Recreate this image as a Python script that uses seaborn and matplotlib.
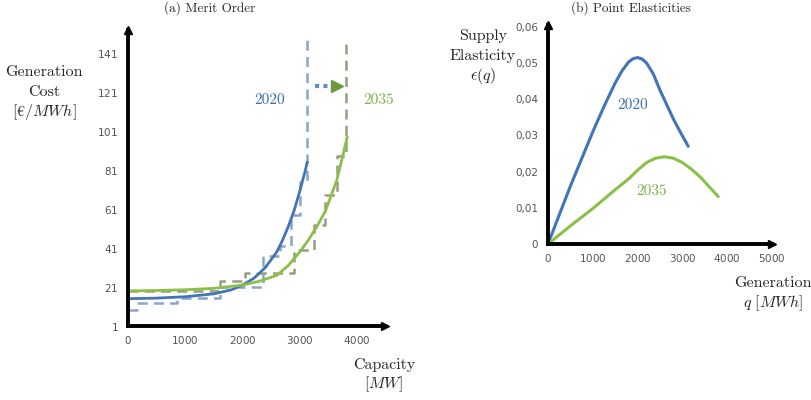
import matplotlib
matplotlib.use("Agg")
import matplotlib.pyplot as plt
import pandas as pd
import seaborn as sns

# (a) merit order curves
cap_2020 = [0, 500, 1000, 1500, 1800, 2000, 2200, 2400, 2600, 2700, 2800, 2900, 3000, 3100, 3130]
cost_2020 = [15, 15.3, 16, 17.5, 19.5, 22, 25.5, 31, 39, 45, 52, 60, 70, 81, 85]
cap_2035 = [0, 500, 1000, 1500, 2000, 2300, 2600, 2800, 3000, 3150, 3300, 3450, 3550, 3650, 3750, 3830]
cost_2035 = [19, 19.2, 19.6, 20.3, 22, 24, 27, 32, 39, 45, 52, 60, 68, 76, 88, 98]

# dashed step supply (plants)
step_cap_2020 = [0, 150, 150, 850, 850, 1600, 1600, 2350, 2350, 2650, 2650, 2850, 2850, 3000, 3000, 3130, 3130]
step_cost_2020 = [9, 9, 13, 13, 15.5, 15.5, 21, 21, 37, 37, 42, 42, 58, 58, 75, 75, 149]
step_cap_2035 = [0, 1600, 1600, 2050, 2050, 2900, 2900, 3250, 3250, 3450, 3450, 3650, 3650, 3800, 3800]
step_cost_2035 = [19, 19, 24, 24, 28, 28, 40, 40, 53, 53, 68, 68, 88, 88, 146]

# shift arrow
shift_x = [3270, 3560]
shift_y = [124, 124]
shift_head_x = [3650]
shift_head_y = [124]

cost_ticks = [1, 21, 41, 61, 81, 101, 121, 141]
cap_ticks = [0, 1000, 2000, 3000, 4000]

# (b) point elasticities
gen_2020 = [0, 250, 500, 750, 1000, 1250, 1500, 1650, 1800, 1900, 2000, 2100, 2200, 2350,
            2500, 2650, 2800, 2950, 3130]
elast_2020 = [0, 0.008, 0.016, 0.0235, 0.031, 0.038, 0.0445, 0.0478, 0.0503, 0.0512, 0.0515,
              0.0511, 0.0500, 0.0470, 0.0425, 0.0385, 0.0345, 0.0310, 0.027]
gen_2035 = [0, 500, 1000, 1500, 1800, 2000, 2200, 2400, 2600, 2800, 3000, 3200, 3400, 3600, 3800]
elast_2035 = [0, 0.005, 0.0098, 0.015, 0.018, 0.0204, 0.0225, 0.0237, 0.0241, 0.0237, 0.0225,
              0.0207, 0.0185, 0.0158, 0.0131]

elast_ticks = [0, 0.01, 0.02, 0.03, 0.04, 0.05, 0.06]
elast_labels = ["0", "0,01", "0,02", "0,03", "0,04", "0,05", "0,06"]
gen_ticks = [0, 1000, 2000, 3000, 4000, 5000]

BLUE = "#4274b6"
GREEN = "#8cbf4a"
BLUE_D = "#8aa5c8"
GREEN_D = "#949f80"
SERIF = ["cmr10", "DejaVu Serif"]

sns.set_theme(style="white")
plt.rcParams["mathtext.fontset"] = "cm"
plt.rcParams["axes.formatter.use_mathtext"] = True

fig = plt.figure(figsize=(8.11, 4.0), dpi=100)
W, H = 811, 400


def axes_px(left, top, right, bottom):
    return fig.add_axes([left / W, 1 - bottom / H, (right - left) / W, (bottom - top) / H])


def style_axes(ax):
    sns.despine(ax=ax)
    for s in ("left", "bottom"):
        ax.spines[s].set_linewidth(2.8)
        ax.spines[s].set_color("black")
    ax.plot(1, 0, ">", color="black", ms=6, transform=ax.transAxes, clip_on=False)
    ax.plot(0, 1, "^", color="black", ms=6, transform=ax.transAxes, clip_on=False)
    ax.tick_params(length=0, labelsize=7.5, labelcolor="#555555")
    ax.tick_params(axis="y", pad=7)
    ax.tick_params(axis="x", pad=6)
    ax.set_xlabel("")
    ax.set_ylabel("")
    ax.grid(False)


# ---- (a) Merit Order
ax1 = axes_px(128, 30, 385, 326)
d1 = pd.DataFrame({"x": step_cap_2020, "y": step_cost_2020})
d2 = pd.DataFrame({"x": step_cap_2035, "y": step_cost_2035})
sns.lineplot(data=d1, x="x", y="y", ax=ax1, sort=False, estimator=None, color=BLUE_D,
             linewidth=1.8, linestyle=(0, (4, 2.5)))
sns.lineplot(data=d2, x="x", y="y", ax=ax1, sort=False, estimator=None, color=GREEN_D,
             linewidth=1.8, linestyle=(0, (4, 2.5)))
sns.lineplot(x=cap_2020, y=cost_2020, ax=ax1, sort=False, estimator=None, color=BLUE, linewidth=2)
sns.lineplot(x=cap_2035, y=cost_2035, ax=ax1, sort=False, estimator=None, color=GREEN, linewidth=2)
ax1.plot(shift_x, shift_y, color="#5b8fd2", linewidth=3, linestyle=(0, (1, 1)))
ax1.plot(shift_head_x, shift_head_y, ">", color="#6e9a3c", ms=9)
ax1.text(2480, 117, "2020", color="#3a6db0", fontsize=11, family=SERIF, ha="center", va="center")
ax1.text(4370, 117, "2035", color="#7bb24a", fontsize=11, family=SERIF, ha="center", va="center")
ax1.set_xlim(0, 4490)
ax1.set_ylim(1, 152.8)
ax1.set_yticks(cost_ticks)
ax1.set_xticks(cap_ticks)
style_axes(ax1)

# ---- (b) Point Elasticities
ax2 = axes_px(548, 25, 772, 244)
sns.lineplot(x=gen_2020, y=elast_2020, ax=ax2, sort=False, estimator=None, color=BLUE, linewidth=2.2)
sns.lineplot(x=gen_2035, y=elast_2035, ax=ax2, sort=False, estimator=None, color=GREEN, linewidth=2.2)
ax2.text(1900, 0.0384, "2020", color="#3a6db0", fontsize=11, family=SERIF, ha="center", va="center")
ax2.text(2320, 0.0146, "2035", color="#7bb24a", fontsize=11, family=SERIF, ha="center", va="center")
ax2.set_xlim(0, 5000)
ax2.set_ylim(0, 0.0605)
ax2.set_yticks(elast_ticks)
ax2.set_yticklabels(elast_labels)
ax2.set_xticks(gen_ticks)
style_axes(ax2)

# titles and axis labels
fig.text(210 / W, 1 - 8 / H, "(a) Merit Order", fontsize=9.5, family=SERIF, ha="center", va="center")
fig.text(631 / W, 1 - 8 / H, "(b) Point Elasticities", fontsize=9.5, family=SERIF, ha="center", va="center")

fig.text(44 / W, 1 - 72 / H, "Generation", fontsize=11.5, family=SERIF, ha="center", va="center")
fig.text(44 / W, 1 - 92 / H, "Cost", fontsize=11.5, family=SERIF, ha="center", va="center")
fig.text(44 / W, 1 - 112 / H, r"$[€/MWh]$", fontsize=11.5, ha="center", va="center")
fig.text(384 / W, 1 - 365 / H, "Capacity", fontsize=11.5, family=SERIF, ha="center", va="center")
fig.text(384 / W, 1 - 384 / H, r"$[MW]$", fontsize=11.5, ha="center", va="center")

fig.text(483 / W, 1 - 36 / H, "Supply", fontsize=11.5, family=SERIF, ha="center", va="center")
fig.text(483 / W, 1 - 56 / H, "Elasticity", fontsize=11.5, family=SERIF, ha="center", va="center")
fig.text(483 / W, 1 - 76 / H, r"$\epsilon(q)$", fontsize=11.5, ha="center", va="center")
fig.text(773 / W, 1 - 283 / H, "Generation", fontsize=11.5, family=SERIF, ha="center", va="center")
fig.text(773 / W, 1 - 303 / H, r"$q\ [MWh]$", fontsize=11.5, ha="center", va="center")

fig.savefig("out.png", dpi=100)
